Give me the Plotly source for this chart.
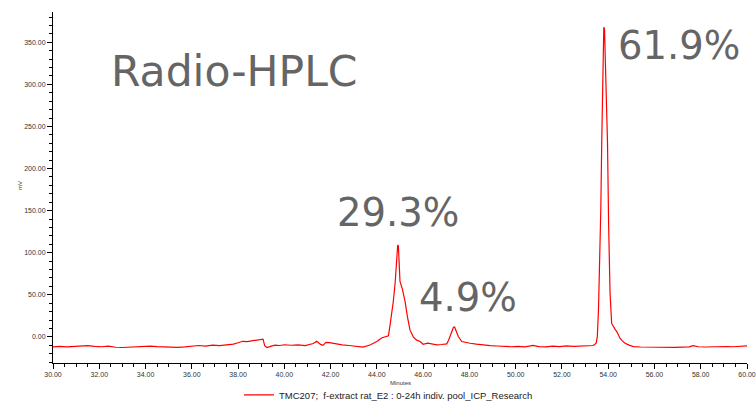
import plotly.graph_objects as go

# Chromatogram (minutes, mV)
minutes = [30.0, 30.3, 30.6, 30.9, 31.2, 31.5, 31.8, 32.1, 32.4, 32.7, 33.0, 33.3, 33.6, 33.9,
           34.2, 34.5, 34.8, 35.1, 35.4, 35.7, 36.0, 36.3, 36.6, 36.9, 37.2, 37.5, 37.8, 38.0,
           38.2, 38.4, 38.6, 38.8, 39.0, 39.08, 39.15, 39.25, 39.4, 39.6, 39.8, 40.0, 40.3,
           40.6, 40.9, 41.1, 41.25, 41.4, 41.55, 41.67, 41.8, 41.95, 42.2, 42.5, 42.8, 43.1,
           43.4, 43.7, 43.85, 44.0, 44.2, 44.35, 44.5, 44.57, 44.64, 44.71, 44.79, 44.86,
           44.90, 44.93, 44.97, 45.0, 45.1, 45.22, 45.32, 45.43, 45.58, 45.72, 45.87, 46.0,
           46.2, 46.4, 46.59, 46.8, 47.02, 47.1, 47.16, 47.25, 47.31, 47.36, 47.42, 47.52,
           47.67, 47.85, 48.03, 48.3, 48.6, 48.9, 49.2, 49.5, 49.8, 50.1, 50.4, 50.75, 51.0,
           51.3, 51.6, 51.9, 52.2, 52.5, 52.8, 53.1, 53.36, 53.48, 53.53, 53.58, 53.62, 53.68,
           53.72, 53.77, 53.81, 53.84, 53.87, 53.92, 53.97, 54.02, 54.08, 54.15, 54.22, 54.3,
           54.37, 54.45, 54.51, 54.6, 54.73, 54.9, 55.09, 55.4, 55.7, 56.0, 56.3, 56.6, 56.9,
           57.2, 57.5, 57.67, 57.9, 58.2, 58.5, 58.8, 59.1, 59.4, 59.7, 60.0]
millivolts = [-11.8, -11.3, -11.9, -11.2, -11.0, -10.4, -11.3, -11.7, -11.0, -12.3, -12.6, -12.1,
              -11.4, -11.7, -10.9, -11.6, -12.1, -11.9, -12.4, -11.8, -10.7, -10.2, -10.9, -9.8,
              -10.4, -9.5, -8.6, -7.0, -5.2, -5.6, -4.6, -4.2, -3.0, -2.6, -10.5, -12.6, -11.2,
              -9.8, -10.2, -9.3, -9.9, -9.4, -10.3, -9.0, -7.8, -5.2, -8.6, -10.0, -6.5, -6.8,
              -8.3, -9.5, -10.2, -11.4, -12.2, -9.6, -7.8, -5.5, -1.2, 0.0, 1.3, 14, 26, 42, 64,
              87, 109, 108, 72, 66, 57, 42, 24, 8.3, -0.4, -3.8, -5.5, -8.7, -7.5, -8.8, -9.5,
              -9.0, -8.3, -4.0, 0.4, 8.0, 11.5, 11.8, 8.3, 0.4, -5.5, -6.8, -7.5, -8.6, -9.8,
              -10.4, -10.8, -11.4, -11.7, -11.2, -11.8, -10.0, -11.6, -11.9, -11.0, -11.5, -10.6,
              -11.2, -10.8, -10.4, -10.2, -7.5, 0.4, 32, 71.5, 150.7, 230, 309, 368, 366, 336,
              300, 230, 131, 52, 16, 12.2, 9.0, 6.3, 1.5, -1.6, -4.5, -7.5, -9.8, -11.5, -12.0,
              -12.2, -11.9, -12.3, -12.0, -12.4, -12.1, -11.8, -10.3, -11.7, -12.0, -11.6, -11.9,
              -11.4, -11.7, -11.2, -10.6]

series_name = "TMC207;  f-extract rat_E2 : 0-24h indiv. pool_ICP_Research"
x_ticks = [30, 32, 34, 36, 38, 40, 42, 44, 46, 48, 50, 52, 54, 56, 58, 60]
y_ticks = [0, 50, 100, 150, 200, 250, 300, 350]
peak_labels = ["29.3%", "4.9%", "61.9%"]

fig = go.Figure()
fig.add_trace(go.Scatter(x=minutes, y=millivolts, mode="lines", name=series_name,
                         line=dict(color="#ff0000", width=1.2), showlegend=True))

tick_font = dict(family="Liberation Sans, Arial, sans-serif", size=7, color="#333333")
fig.update_xaxes(range=[30, 60], tickmode="array", tickvals=x_ticks,
                 ticktext=[f"{v:.2f}" for v in x_ticks], ticks="outside", ticklen=5,
                 tickcolor="#000", tickwidth=1, showline=True, linecolor="#000", linewidth=1,
                 showgrid=False, zeroline=False, tickfont=tick_font, automargin=False,
                 minor=dict(dtick=0.5, ticks="outside", ticklen=3, tickcolor="#000", showgrid=False))
fig.update_yaxes(range=[-31, 386], tickmode="array", tickvals=y_ticks,
                 ticktext=[f"{v:.2f}" for v in y_ticks], ticks="outside", ticklen=5,
                 tickcolor="#000", tickwidth=1, showline=True, linecolor="#000", linewidth=1,
                 showgrid=False, zeroline=False, tickfont=tick_font, automargin=False,
                 minor=dict(dtick=10, tick0=0, ticks="outside", ticklen=3, tickcolor="#000", showgrid=False))

big = dict(family="DejaVu Sans, Verdana, sans-serif", color="#656565")
annotations = [
    dict(x=37.86, y=315.5, xref="x", yref="y", text="Radio-HPLC", showarrow=False,
         font=dict(size=42.5, **big), xanchor="center", yanchor="middle"),
    dict(x=44.92, y=147.5, xref="x", yref="y", text=peak_labels[0], showarrow=False,
         font=dict(size=38.5, **big), xanchor="center", yanchor="middle"),
    dict(x=47.92, y=46.3, xref="x", yref="y", text=peak_labels[1], showarrow=False,
         font=dict(size=38.5, **big), xanchor="center", yanchor="middle"),
    dict(x=57.08, y=346.4, xref="x", yref="y", text=peak_labels[2], showarrow=False,
         font=dict(size=38.5, **big), xanchor="center", yanchor="middle"),
    dict(x=0.5, y=-0.057, xref="paper", yref="paper", text="Minutes", showarrow=False,
         font=dict(family="Liberation Sans, Arial, sans-serif", size=6, color="#333333"),
         xanchor="center", yanchor="middle"),
    dict(x=-0.0476, y=0.507, xref="paper", yref="paper", text="mV", showarrow=False,
         textangle=-90,
         font=dict(family="Liberation Sans, Arial, sans-serif", size=6, color="#333333"),
         xanchor="center", yanchor="middle"),
]

fig.update_layout(
    width=756, height=402,
    margin=dict(l=53, r=9, t=12, b=39, autoexpand=False),
    paper_bgcolor="white", plot_bgcolor="white",
    annotations=annotations,
    legend=dict(x=0.268, y=-0.091, xanchor="left", yanchor="middle", orientation="h",
                font=dict(family="Liberation Sans, Arial, sans-serif", size=9.5, color="#222222"),
                bgcolor="rgba(0,0,0,0)"),
)

fig.write_html("out.html", config={"displayModeBar": False},
               post_script="document.body.style.margin='0';document.body.style.overflow='hidden';")
